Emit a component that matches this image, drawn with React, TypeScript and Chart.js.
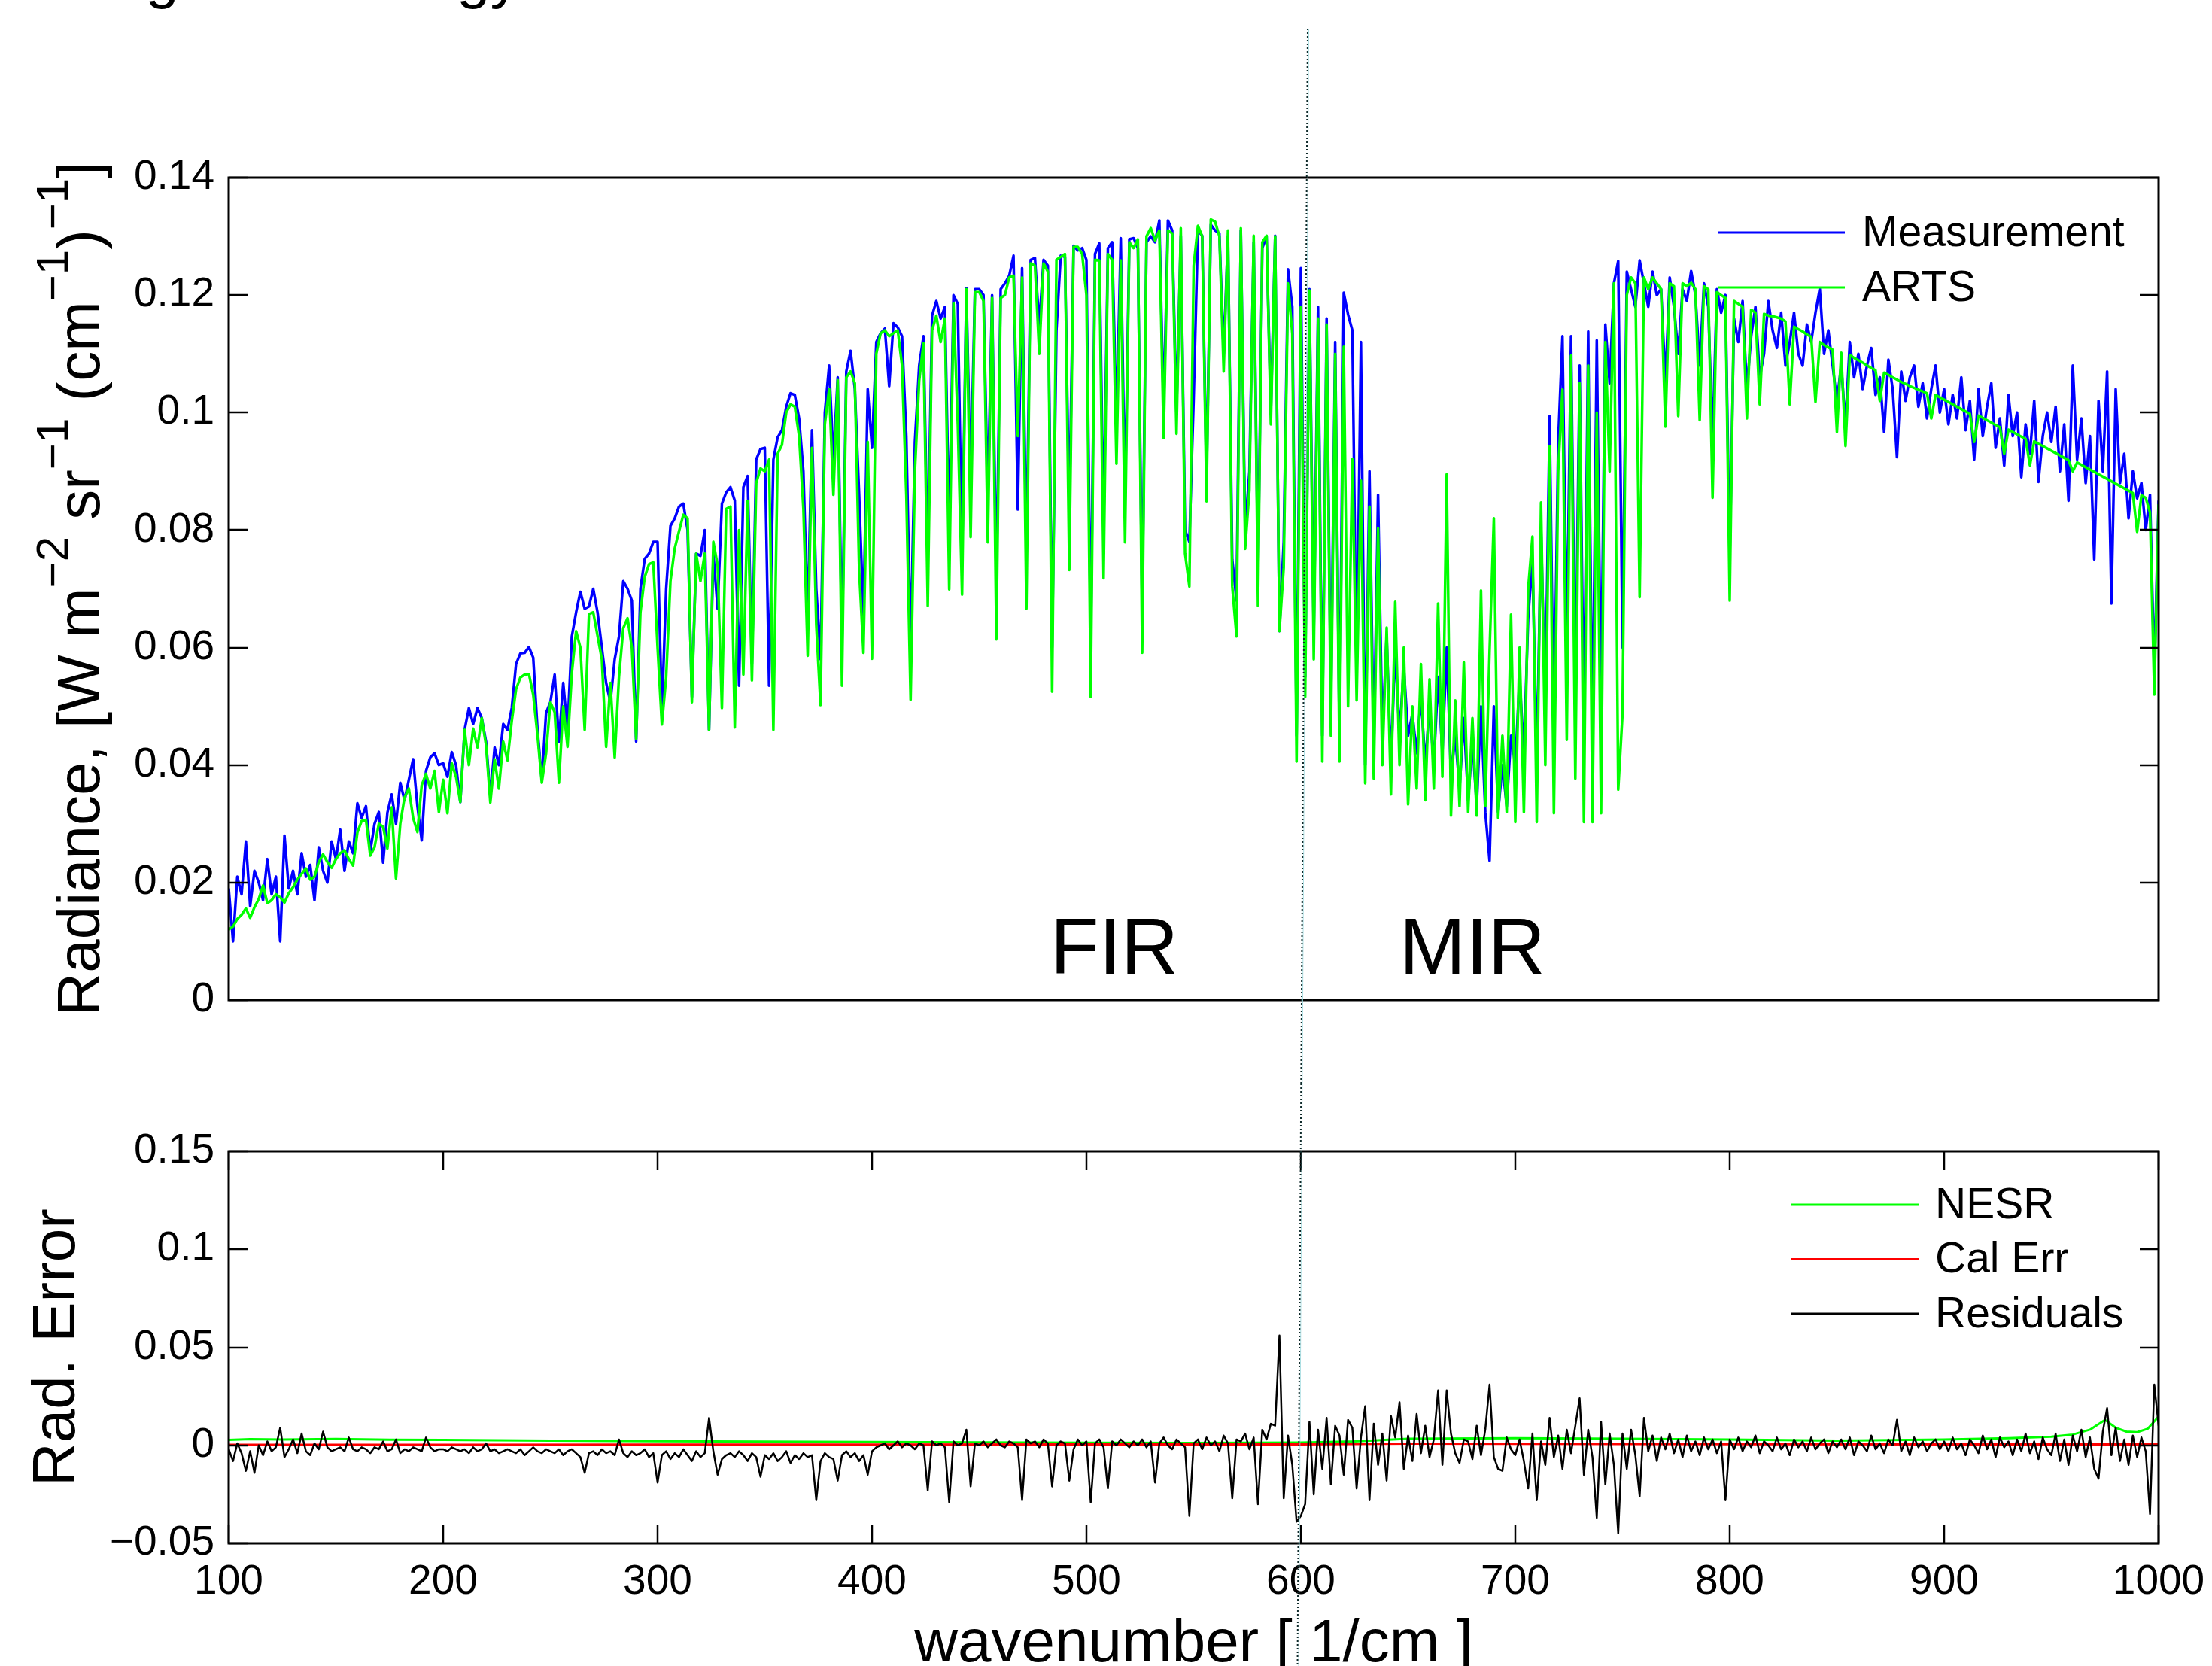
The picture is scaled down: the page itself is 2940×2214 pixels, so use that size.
import { useEffect, useRef } from "react";
import { Chart, registerables } from "chart.js";

Chart.register(...registerables);

// ---------------- DATA ----------------
// Spectral sampling grid: wavenumber [1/cm] = WN_START + i * WN_STEP (100 ... 1000)
const WN_START = 100;
const WN_STEP = 2;

// Radiance values in units of 1e-3 W m^-2 sr^-1 (cm^-1)^-1, one row per 50 cm^-1
const measurementMilli: number[] = [
  // 100-148
  19, 10, 21, 18, 27, 16, 22, 20, 17, 24, 18, 21, 10, 28, 19, 22, 18, 25, 21, 23, 17, 26, 22, 20, 27,
  // 150-198
  24, 29, 22, 27, 25, 33.5, 31, 33, 25.3, 30, 32, 23.4, 31.9, 35, 30, 37, 34, 37.5, 41, 33, 27.2, 39, 41.3, 42, 40,
  // 200-248
  40.3, 38, 42.2, 40, 33.7, 46, 49.7, 47, 49.7, 48, 44, 34.7, 43, 40, 47, 46, 49.7, 57.2, 59, 59.1, 60.1, 58.3, 46, 37.5, 48.9,
  // 250-298
  50.7, 55.4, 44, 54, 46, 61.9, 66, 69.5, 66.6, 67, 70, 66, 60, 54, 50.7, 58, 61.9, 71.3, 70, 68, 44, 70, 75.1, 76, 78,
  // 300-348
  78, 48.9, 70, 80.7, 82, 84, 84.5, 80, 51.6, 76, 75.6, 80, 46, 76, 66.6, 84.5, 86.4, 87.3, 85, 53.5, 87.3, 89.2, 57.2, 92, 93.8,
  // 350-398
  94, 53.5, 92, 95.8, 97, 101, 103.3, 103, 99, 90, 65, 97, 70, 58, 100, 108, 92, 106, 60, 107, 110.5, 104, 86, 65, 104,
  // 400-448
  94, 112, 113.5, 114.3, 104.5, 115.2, 114.5, 113, 96, 60, 95, 108, 113, 75, 116.5, 119, 116, 118, 80, 120, 118.5, 75, 121.2, 88, 121,
  // 450-498
  121, 120, 85, 120, 70, 121, 122, 123.3, 126.7, 83.5, 124.6, 75, 126, 126.3, 114.8, 126, 125, 60, 113.9, 126.7, 126.5, 82, 128.4, 127.6, 128,
  // 500-548
  126, 60, 127, 128.8, 80, 128, 129, 98, 129.7, 85, 129.5, 129.7, 128, 66, 129, 130, 129, 132.7, 100, 132.7, 131, 100, 130.1, 80, 78,
  // 550-598
  102.3, 131, 130.1, 88, 132, 131, 130.5, 110, 130, 75, 68, 131, 80, 90, 129, 72, 128, 130, 100, 130.1, 62.8, 78, 124.4, 118, 45,
  // 600-648
  124.6, 55, 121, 62, 118, 45, 116, 50, 112, 44, 120.4, 116.7, 114, 55, 112, 40, 90, 42, 86, 45, 62, 40, 60, 45, 56.8,
  // 650-698
  45, 48.7, 42, 52, 40, 50, 40, 55, 42, 60, 38, 45, 36, 48, 34, 44, 33, 50, 32, 23.7, 50, 32, 40, 33, 45,
  // 700-748
  40, 55, 42, 65, 75, 40, 80, 50, 99.4, 45, 95, 113, 60, 113, 50, 108, 45, 113.8, 42, 112.3, 50, 115, 105, 122, 125.8,
  // 750-798
  60, 124, 121, 118, 125.9, 122, 118, 124, 120, 121, 105, 123, 118, 110, 121, 119, 124.1, 120, 108, 122, 118, 95, 121, 117, 120,
  // 800-848
  75, 116, 112, 119, 104, 113, 118, 106, 110, 119, 114, 111, 117, 108, 112, 117, 110, 108, 115, 112, 117, 121.1, 110, 114, 108,
  // 850-898
  102, 108, 98, 112, 106, 110, 104, 108, 111, 103, 106, 96.7, 109, 104, 92.4, 107, 102, 106, 108, 101, 105, 99, 104, 108, 100,
  // 900-948
  104, 98, 103, 99, 106, 97, 102, 92, 104, 96, 101, 105, 94, 99, 91, 103, 96, 100, 89, 98, 93, 102, 88.2, 96, 100,
  // 950-1000
  95, 101, 90, 98, 85, 108, 92, 99, 88, 96, 75, 102, 90, 107, 67.5, 104, 88, 93, 82, 90, 85.4, 88, 80, 86, 55.3, 85,
];

const artsMilli: number[] = [
  // 100-148
  12.0, 12.5, 13.8, 14.5, 15.6, 14.0, 15.8, 17.2, 19.5, 16.5, 17.0, 18.0, 17.5, 16.6, 18.2, 19.2, 20.5, 21.5, 22.4, 20.5, 21.0, 23.5, 24.8, 23.5, 22.5,
  // 150-198
  24.0, 25.0, 25.5, 24.0, 22.9, 28.5, 30.5, 30.7, 24.6, 26.0, 30.0, 29.5, 25.8, 32.8, 20.7, 30.0, 34.5, 36.0, 31.0, 28.6, 36.6, 38.5, 36.0, 39.0, 32.0,
  // 200-248
  37.5, 31.8, 40.3, 38.0, 33.7, 46.0, 40.0, 46.2, 43.0, 48.0, 43.4, 33.6, 41.0, 36.0, 44.0, 40.8, 47.5, 52.9, 54.9, 55.4, 55.5, 52.0, 45.0, 37.0, 42.0,
  // 250-298
  50.7, 49.0, 37.0, 50.0, 43.1, 55.6, 62.8, 60.0, 46.0, 65.7, 66.0, 62.0, 58.0, 43.1, 54.0, 41.3, 55.0, 63.3, 65.0, 60.0, 44.5, 66.0, 72.0, 74.2, 74.5,
  // 300-348
  60.0, 46.9, 55.0, 71.3, 76.9, 79.8, 82.6, 82.0, 50.7, 76.0, 71.3, 76.0, 46.0, 78.0, 74.0, 49.7, 83.6, 84.0, 46.4, 80.0, 55.4, 85.0, 54.4, 88.0, 90.5,
  // 350-398
  90.0, 92.0, 46.0, 93.0, 94.5, 100.0, 101.4, 101.0, 96.0, 83.6, 58.6, 94.0, 63.8, 50.2, 98.0, 104.0, 86.0, 105.5, 53.5, 106.0, 107.0, 105.0, 73.2, 59.1, 95.0,
  // 400-448
  58.1, 110, 113.5, 114, 113, 113.5, 114, 108, 86, 51.1, 90, 105.4, 111.8, 67.1, 114, 116.5, 112, 116, 69.9, 118.6, 98, 69.0, 121, 78.8, 120.5,
  // 450-498
  120.5, 119, 77.9, 119.5, 61.4, 119.5, 120, 123, 123.3, 96, 123, 66.6, 125.4, 125, 110, 125.4, 124, 52.5, 126, 126.5, 127, 73.2, 128.2, 128.2, 127,
  // 500-548
  120, 51.6, 126, 125.9, 71.8, 127, 126, 91.3, 125.9, 77.9, 129, 128, 129.5, 59.1, 130, 131.4, 129.3, 131, 95.7, 131, 130.5, 96.4, 131.4, 76, 70.4,
  // 550-598
  125, 131.8, 130, 84.9, 132.9, 132.5, 130, 107, 131, 70.4, 61.9, 131.4, 76.8, 86.8, 130.1, 67.1, 129, 130.1, 98, 130, 62.8, 73.6, 122, 113.4, 40.6,
  // 600-648
  118, 51.6, 120.8, 58, 116, 40.6, 115, 45, 110, 40.6, 111.2, 50, 92.1, 51, 88.4, 36.9, 84, 37.7, 80.3, 40, 63.4, 35, 67.8, 40, 60,
  // 650-698
  33.3, 50, 36, 57.2, 34, 54.6, 36, 67.5, 38, 89.5, 31.4, 51, 33, 57.5, 32, 48, 31.4, 69.7, 33, 59.4, 82, 31, 45, 32, 65.6,
  // 700-748
  30.3, 60, 32, 70, 78.9, 30.3, 84.7, 40, 94.3, 31.8, 90, 103.9, 44.3, 109.7, 37.7, 105, 30.3, 108, 30.3, 100, 31.8, 112, 90, 122, 35.8,
  // 750-798
  48.7, 120, 123, 122, 68.6, 123, 121, 123, 122, 121, 97.6, 122, 121.5, 99.4, 122, 121.5, 122.1, 121, 98.7, 121.5, 121, 85.5, 120.5, 120, 119.5,
  // 800-848
  68, 119, 118.5, 118, 99, 117.5, 117, 101.4, 116.8, 116.5, 116.4, 116.2, 116, 115.5, 101.4, 114.6, 114.2, 113.8, 113.3, 112.9, 101.8, 112, 111.5, 111.1, 110.7,
  // 850-898
  96.7, 110.2, 94.3, 109.8, 109.3, 108.9, 108.5, 108, 107.6, 107.2, 102, 106.8, 106.4, 106, 105.6, 105.2, 104.9, 104.5, 104.2, 103.9, 103.6, 103.3, 99, 103, 102.6,
  // 900-948
  102.2, 101.8, 101.4, 101, 100.6, 100.2, 99.8, 95, 99.5, 99.1, 98.7, 98.3, 97.9, 97.5, 93, 97.1, 96.7, 96.3, 95.9, 95.5, 91, 95.1, 94.7, 94.3, 93.9,
  // 950-1000
  93.5, 93.1, 92.7, 92.3, 91.9, 90, 91.5, 91.1, 90.7, 90.3, 89.9, 89.5, 89.1, 88.7, 88.3, 87.9, 87.5, 87.1, 86.7, 86.3, 79.7, 85.9, 85.5, 83, 52, 84.4,
];

// Residuals (1e-3 units) on the same grid
const residualMilli: number[] = [
  -2, -8, 1, -4, -13, -3, -14, 0, -5, 2, -3, -1, 9, -6, -2, 3, -4, 6, -3, -5, 1, -2, 7, -1, -3,
  -2, -1, -3, 4, -2, -3, -1, -2, -4, -1, -2, 2, -3, -2, 3, -4, -2, -3, -1, -2, -3, 4, -1, -3, -2,
  -2, -3, -1, -2, -3, -2, -4, -1, -3, -2, 1, -3, -2, -4, -3, -2, -3, -4, -2, -5, -3, -1, -3, -4, -2,
  -3, -4, -2, -5, -3, -2, -4, -6, -14, -4, -3, -5, -2, -4, -3, -5, 3, -4, -6, -3, -5, -4, -2, -6, -4,
  -19, -5, -3, -7, -4, -6, -2, -5, -8, -3, -6, -4, 14, -3, -15, -7, -5, -4, -6, -3, -5, -8, -4, -6, -16,
  -5, -7, -4, -8, -6, -3, -9, -5, -7, -4, -6, -5, -28, -8, -4, -6, -7, -18, -5, -3, -6, -4, -8, -5, -15,
  -3, -1, 0, 1, -2, 0, 2, -1, 1, 0, -2, 1, 0, -23, 2, 0, 1, -1, -29, 2, 0, 1, 8, -21, 1,
  0, 2, -1, 1, 3, 0, -1, 2, 1, -1, -28, 3, 1, 2, -1, 3, 1, -21, 0, 2, 1, -18, -2, 3, 0,
  2, -29, 1, 3, -1, -22, 2, 0, 3, 1, -1, 2, 0, 3, -1, 2, -19, 1, 4, 0, -2, 3, 1, -1, -36,
  1, 3, -2, 4, 0, 2, -3, 5, 1, -27, 3, 2, 6, -2, 4, -30, 8, 3, 11, 10, 56, -27, 5, -10, -39,
  -36, -30, 12, -25, 8, -12, 14, -20, 10, 5, -15, 13, 9, -22, 4, 20, -28, 11, -10, 6, -18, 15, 4, 22, -12,
  5, -8, 16, -4, 10, -6, 3, 28, -10, 28, 6, -4, -9, 3, 2, -7, 10, -5, 8, 31, -6, -12, -13, 4, -2,
  -5, 3, -8, -22, 6, -28, 2, -10, 14, -6, 5, -12, 8, -4, 10, 24, -15, 8, -6, -37, 12, -20, 6, -10, -45,
  6, -12, 8, -5, -26, 14, -3, 5, -8, 4, -2, 6, -4, 3, -6, 5, -3, 2, -5, 4, -2, 3, -4, 2, -28,
  3, -2, 4, -3, 2, -1, 5, -4, 2, 0, -3, 4, -2, 1, -5, 3, -1, 2, -3, 4, -2, 1, 3, -4, 2,
  -1, 3, -2, 4, -5, 2, 0, -3, 5, -2, 1, -4, 3, 0, 13, -3, 2, -5, 4, -1, 2, -3, 1, 3, -2,
  2, -3, 4, -2, 1, -5, 3, 0, -4, 5, -2, 3, -6, 4, -1, 2, -5, 3, -3, 6, -4, 2, -7, 4, -2,
  -5, 6, -8, 3, -10, 5, -3, 8, -6, 4, -12, -17, 7, 19, -5, 9, -8, 3, -10, 5, -6, 4, -3, -35, 31, 10,
];

const nesrWavenumber: number[] = [100, 110, 125, 150, 175, 200, 250, 300, 350, 400, 450, 500, 550, 600, 625, 650, 700, 750, 800, 850, 900, 930, 950, 960, 968, 975, 980, 985, 990, 995, 1000];
const nesrMilli: number[] = [2.8, 3.2, 3.0, 3.3, 2.9, 2.8, 2.4, 2.1, 1.9, 1.7, 1.5, 1.3, 1.2, 1.4, 2.0, 3.4, 3.6, 3.4, 3.0, 2.4, 3.0, 3.6, 4.4, 5.5, 8, 13, 9, 7, 6.7, 8.5, 14.7];

const calErrWavenumber: number[] = [100, 200, 300, 400, 500, 600, 650, 700, 800, 900, 1000];
const calErrMilli: number[] = [0.3, 0.3, 0.4, 0.4, 0.5, 0.5, 0.9, 0.8, 0.6, 0.5, 0.5];

const TITLE_TEXT = "Longwave energy";
const REGION_LABELS = ["FIR", "MIR"];
const REGION_LABEL_WN = [513, 680];
const REGION_LABEL_Y = 0.0045;
const DIVIDER_WN = 600;
const X_TITLE = "wavenumber [ 1/cm ]";
const BOTTOM_Y_TITLE = "Rad. Error";
const TOP_Y_TITLE: { t: string; sup?: boolean }[] = [
  { t: "Radiance, [W m" },
  { t: "\u22122", sup: true },
  { t: " sr" },
  { t: "\u22121", sup: true },
  { t: " (cm" },
  { t: "\u22121", sup: true },
  { t: ")" },
  { t: "\u22121", sup: true },
  { t: "]" },
];

// ---------------- HELPERS ----------------
const FONT = '"Liberation Sans", Arial, Helvetica, sans-serif';
const TICK_LEN = 25;

function gridPoints(values: number[]) {
  return values.map((v, i) => ({ x: WN_START + i * WN_STEP, y: v / 1000 }));
}
function pairPoints(xs: number[], values: number[]) {
  return values.map((v, i) => ({ x: xs[i], y: v / 1000 }));
}
function fmtTick(v: number) {
  const n = Math.round(v * 1000) / 1000;
  if (n === 0) return "0";
  return n < 0 ? "\u2212" + String(-n) : String(n);
}

function drawFrame(ctx: CanvasRenderingContext2D, chart: any, withX: boolean) {
  const a = chart.chartArea;
  const ys = chart.scales.y;
  const xs = chart.scales.x;
  ctx.save();
  ctx.strokeStyle = "#000";
  ctx.lineWidth = 3;
  ctx.strokeRect(a.left, a.top, a.right - a.left, a.bottom - a.top);
  ctx.lineWidth = 2.5;
  ctx.beginPath();
  ys.ticks.forEach((t: any) => {
    const p = Math.round(ys.getPixelForValue(t.value));
    ctx.moveTo(a.left, p);
    ctx.lineTo(a.left + TICK_LEN, p);
    ctx.moveTo(a.right, p);
    ctx.lineTo(a.right - TICK_LEN, p);
  });
  if (withX) {
    xs.ticks.forEach((t: any) => {
      const p = Math.round(xs.getPixelForValue(t.value));
      ctx.moveTo(p, a.bottom);
      ctx.lineTo(p, a.bottom - TICK_LEN);
      ctx.moveTo(p, a.top);
      ctx.lineTo(p, a.top + TICK_LEN);
    });
  }
  ctx.stroke();
  ctx.restore();
}

function drawLegend(ctx: CanvasRenderingContext2D, chart: any, lineFromRight: number, lineToRight: number, textFromRight: number, firstRow: number, rowGap: number) {
  const a = chart.chartArea;
  ctx.save();
  chart.data.datasets.forEach((ds: any, i: number) => {
    const y = a.top + firstRow + i * rowGap;
    ctx.strokeStyle = ds.borderColor;
    ctx.lineWidth = 3;
    ctx.beginPath();
    ctx.moveTo(a.right - lineFromRight, y);
    ctx.lineTo(a.right - lineToRight, y);
    ctx.stroke();
    ctx.fillStyle = "#000";
    ctx.font = `57px ${FONT}`;
    ctx.textAlign = "left";
    ctx.textBaseline = "middle";
    ctx.fillText(ds.label, a.right - textFromRight, y + 2);
  });
  ctx.restore();
}

function drawVerticalTitle(ctx: CanvasRenderingContext2D, segs: { t: string; sup?: boolean }[], baselineX: number, centerY: number, size: number) {
  const supSize = Math.round(size * 0.75);
  ctx.save();
  ctx.translate(baselineX, centerY);
  ctx.rotate(-Math.PI / 2);
  ctx.fillStyle = "#000";
  ctx.textBaseline = "alphabetic";
  ctx.textAlign = "left";
  let total = 0;
  const widths = segs.map((s) => {
    ctx.font = `${s.sup ? supSize : size}px ${FONT}`;
    const w = ctx.measureText(s.t).width;
    total += w;
    return w;
  });
  let x = -total / 2;
  segs.forEach((s, i) => {
    ctx.font = `${s.sup ? supSize : size}px ${FONT}`;
    ctx.fillText(s.t, x, s.sup ? -size * 0.52 : 0);
    x += widths[i];
  });
  ctx.restore();
}

function drawDivider(ctx: CanvasRenderingContext2D, x0: number, y0: number, x1: number, y1: number) {
  ctx.save();
  ctx.strokeStyle = "rgba(150, 215, 220, 0.8)";
  ctx.lineWidth = 1;
  ctx.beginPath();
  ctx.moveTo(x0 + 1.5, y0);
  ctx.lineTo(x1 + 1.5, y1);
  ctx.stroke();
  ctx.strokeStyle = "#0f2a2a";
  ctx.lineWidth = 2;
  ctx.setLineDash([2, 3]);
  ctx.beginPath();
  ctx.moveTo(x0, y0);
  ctx.lineTo(x1, y1);
  ctx.stroke();
  ctx.restore();
}

// ---------------- COMPONENT ----------------
const W = 2940;
const TOP_H = 1440;
const BOT_H = 774;

export default function App() {
  const topRef = useRef<HTMLCanvasElement>(null);
  const botRef = useRef<HTMLCanvasElement>(null);

  useEffect(() => {
    if (!topRef.current || !botRef.current) return;

    const topDecor = {
      id: "topDecor",
      afterDraw(chart: any) {
        const ctx = chart.ctx as CanvasRenderingContext2D;
        const a = chart.chartArea;
        const xs = chart.scales.x;
        const ys = chart.scales.y;
        drawFrame(ctx, chart, false);
        ctx.save();
        ctx.fillStyle = "#000";
        ctx.font = `106px ${FONT}`;
        ctx.textAlign = "center";
        ctx.textBaseline = "alphabetic";
        REGION_LABELS.forEach((lab, i) => {
          ctx.fillText(lab, xs.getPixelForValue(REGION_LABEL_WN[i]), ys.getPixelForValue(REGION_LABEL_Y));
        });
        ctx.font = `80px ${FONT}`;
        ctx.textAlign = "left";
        ctx.fillText(TITLE_TEXT, 60, -5);
        ctx.restore();
        drawLegend(ctx, chart, 585, 417, 394, 73, 73);
        drawVerticalTitle(ctx, TOP_Y_TITLE, 132, (a.top + a.bottom) / 2, 80);
        const px = xs.getPixelForValue(DIVIDER_WN);
        drawDivider(ctx, px + 9, 38, px + 0.3, chart.height);
      },
    };

    const botDecor = {
      id: "botDecor",
      afterDraw(chart: any) {
        const ctx = chart.ctx as CanvasRenderingContext2D;
        const a = chart.chartArea;
        const xs = chart.scales.x;
        drawFrame(ctx, chart, true);
        drawLegend(ctx, chart, 488, 319, 297, 71, 72.5);
        drawVerticalTitle(ctx, [{ t: BOTTOM_Y_TITLE }], 99, (a.top + a.bottom) / 2, 80);
        ctx.save();
        ctx.fillStyle = "#000";
        ctx.font = `80px ${FONT}`;
        ctx.textAlign = "center";
        ctx.textBaseline = "alphabetic";
        ctx.fillText(X_TITLE, (a.left + a.right) / 2, 768);
        ctx.restore();
        const px = xs.getPixelForValue(DIVIDER_WN);
        drawDivider(ctx, px + 0.3, 0, px - 4.5, chart.height);
      },
    };

    const tickFont = { family: FONT, size: 55 };

    const top = new Chart(topRef.current, {
      type: "line",
      data: {
        datasets: [
          { label: "Measurement", data: gridPoints(measurementMilli), borderColor: "#0000ff", borderWidth: 3.5, order: 1 },
          { label: "ARTS", data: gridPoints(artsMilli), borderColor: "#00ff00", borderWidth: 3.5, order: 0 },
        ],
      },
      options: {
        animation: false,
        responsive: false,
        maintainAspectRatio: false,
        layout: { autoPadding: false, padding: { left: 0, right: 71, top: 236, bottom: 0 } },
        elements: { point: { radius: 0 }, line: { tension: 0, borderJoinStyle: "round", fill: false } },
        plugins: { legend: { display: false }, tooltip: { enabled: false }, title: { display: false } },
        scales: {
          x: {
            type: "linear",
            min: 100,
            max: 1000,
            ticks: { display: false, stepSize: 100 },
            grid: { display: false, drawTicks: false },
            border: { display: false },
            afterFit: (s: any) => { s.height = TOP_H - 1329; s.paddingLeft = 0; s.paddingRight = 0; },
          },
          y: {
            type: "linear",
            min: 0,
            max: 0.14,
            ticks: { stepSize: 0.02, font: tickFont, color: "#000", padding: 19, callback: (v: any) => fmtTick(Number(v)) },
            grid: { display: false, drawTicks: false },
            border: { display: false },
            afterFit: (s: any) => { s.width = 304; s.paddingTop = 0; s.paddingBottom = 0; },
          },
        },
      } as any,
      plugins: [topDecor],
    });

    const bot = new Chart(botRef.current, {
      type: "line",
      data: {
        datasets: [
          { label: "NESR", data: pairPoints(nesrWavenumber, nesrMilli), borderColor: "#00ff00", borderWidth: 3, order: 2 },
          { label: "Cal Err", data: pairPoints(calErrWavenumber, calErrMilli), borderColor: "#ff0000", borderWidth: 3, order: 1 },
          { label: "Residuals", data: gridPoints(residualMilli), borderColor: "#000000", borderWidth: 2.5, order: 0 },
        ],
      },
      options: {
        animation: false,
        responsive: false,
        maintainAspectRatio: false,
        layout: { autoPadding: false, padding: { left: 0, right: 71, top: 90, bottom: 0 } },
        elements: { point: { radius: 0 }, line: { tension: 0, borderJoinStyle: "round", fill: false } },
        plugins: { legend: { display: false }, tooltip: { enabled: false }, title: { display: false } },
        scales: {
          x: {
            type: "linear",
            min: 100,
            max: 1000,
            ticks: { stepSize: 100, font: tickFont, color: "#000", padding: 19, maxRotation: 0, autoSkip: false, callback: (v: any) => String(v) },
            grid: { display: false, drawTicks: false },
            border: { display: false },
            afterFit: (s: any) => { s.height = BOT_H - 611; s.paddingLeft = 0; s.paddingRight = 0; },
          },
          y: {
            type: "linear",
            min: -0.05,
            max: 0.15,
            ticks: { stepSize: 0.05, font: tickFont, color: "#000", padding: 19, callback: (v: any) => fmtTick(Number(v)) },
            grid: { display: false, drawTicks: false },
            border: { display: false },
            afterFit: (s: any) => { s.width = 304; s.paddingTop = 0; s.paddingBottom = 0; },
          },
        },
      } as any,
      plugins: [botDecor],
    });

    return () => {
      top.destroy();
      bot.destroy();
    };
  }, []);

  return (
    <div style={{ position: "absolute", left: 0, top: 0, width: W, height: TOP_H + BOT_H, background: "#fff", overflow: "hidden" }}>
      <canvas ref={topRef} width={W} height={TOP_H} style={{ position: "absolute", left: 0, top: 0, width: W, height: TOP_H }} />
      <canvas ref={botRef} width={W} height={BOT_H} style={{ position: "absolute", left: 0, top: TOP_H, width: W, height: BOT_H }} />
    </div>
  );
}
